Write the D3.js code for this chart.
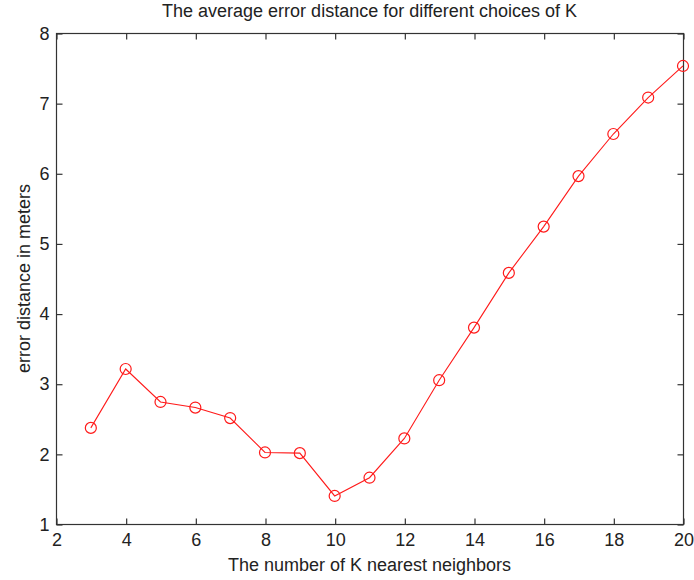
<!DOCTYPE html>
<html>
<head>
<meta charset="utf-8">
<script src="https://cdn.jsdelivr.net/npm/d3@7"></script>
<style>
  html, body { margin: 0; padding: 0; background: #fff; }
  svg text { font-family: "Liberation Sans", Arial, sans-serif; fill: #222; }
</style>
</head>
<body>
<svg id="chart" width="694" height="580"></svg>
<script>
// Neighbour counts K and the mean localisation error (m) for each
const kValues = [3, 4, 5, 6, 7, 8, 9, 10, 11, 12, 13, 14, 15, 16, 17, 18, 19, 20];
const errorMeters = [2.37, 3.21, 2.74, 2.66, 2.51, 2.02, 2.01, 1.40, 1.66, 2.22, 3.05, 3.80, 4.58, 5.24, 5.96, 6.56, 7.08, 7.53];
const xTicks = [2, 4, 6, 8, 10, 12, 14, 16, 18, 20];
const yTicks = [1, 2, 3, 4, 5, 6, 7, 8];

const titleText = "The average error distance for different choices of K";
const xLabelText = "The number of K nearest neighbors";
const yLabelText = "error distance in meters";

const svg = d3.select("#chart");
const plot = { left: 56, right: 683, top: 33, bottom: 524 };

const x = d3.scaleLinear().domain([2, 20]).range([plot.left, plot.right]);
const y = d3.scaleLinear().domain([1, 8]).range([plot.bottom, plot.top]);

const axisColor = "#333";
const tickLen = 6;
const fontSize = 18;
const intFormat = d3.format("d");

// Box around the axes
svg.append("rect")
  .attr("x", plot.left + 0.5).attr("y", plot.top + 0.5)
  .attr("width", plot.right - plot.left).attr("height", plot.bottom - plot.top)
  .attr("fill", "none").attr("stroke", axisColor).attr("stroke-width", 1.2);

// Bottom and left axes, ticks pointing inward
const xAxis = d3.axisBottom(x).tickValues(xTicks).tickFormat(intFormat).tickSize(-tickLen).tickPadding(9);
const yAxis = d3.axisLeft(y).tickValues(yTicks).tickFormat(intFormat).tickSize(-tickLen).tickPadding(7);

const gx = svg.append("g").attr("transform", `translate(0.5,${plot.bottom + 0.5})`).call(xAxis);
const gy = svg.append("g").attr("transform", `translate(${plot.left + 0.5},0.5)`).call(yAxis);

// Mirrored ticks on top and right edges
const gxTop = svg.append("g").attr("transform", `translate(0.5,${plot.top + 0.5})`)
  .call(d3.axisTop(x).tickValues(xTicks).tickSize(-tickLen).tickFormat(""));
const gyRight = svg.append("g").attr("transform", `translate(${plot.right + 0.5},0.5)`)
  .call(d3.axisRight(y).tickValues(yTicks).tickSize(-tickLen).tickFormat(""));

[gx, gy, gxTop, gyRight].forEach(g => {
  g.select(".domain").remove();
  g.selectAll(".tick line").attr("stroke", axisColor).attr("stroke-width", 1.2);
  g.selectAll(".tick text")
    .attr("font-size", fontSize)
    .attr("font-family", "'Liberation Sans', Arial, sans-serif")
    .attr("fill", "#222");
});

// Title and axis labels
svg.append("text")
  .attr("x", (plot.left + plot.right) / 2).attr("y", 17)
  .attr("text-anchor", "middle").attr("font-size", fontSize)
  .text(titleText);

svg.append("text")
  .attr("x", (plot.left + plot.right) / 2).attr("y", 571)
  .attr("text-anchor", "middle").attr("font-size", fontSize)
  .text(xLabelText);

svg.append("text")
  .attr("transform", `translate(30,${(plot.top + plot.bottom) / 2}) rotate(-90)`)
  .attr("text-anchor", "middle").attr("font-size", fontSize)
  .text(yLabelText);

// Error curve with open circle markers
const points = kValues.map((k, i) => ({ k, e: errorMeters[i] }));

svg.append("path")
  .datum(points)
  .attr("fill", "none")
  .attr("stroke", "#ff1a1a")
  .attr("stroke-width", 1.1)
  .attr("d", d3.line().x(d => x(d.k)).y(d => y(d.e)));

svg.append("g").selectAll("circle")
  .data(points)
  .join("circle")
  .attr("cx", d => x(d.k))
  .attr("cy", d => y(d.e))
  .attr("r", 5.5)
  .attr("fill", "none")
  .attr("stroke", "#ff1a1a")
  .attr("stroke-width", 1.2);
</script>
</body>
</html>
